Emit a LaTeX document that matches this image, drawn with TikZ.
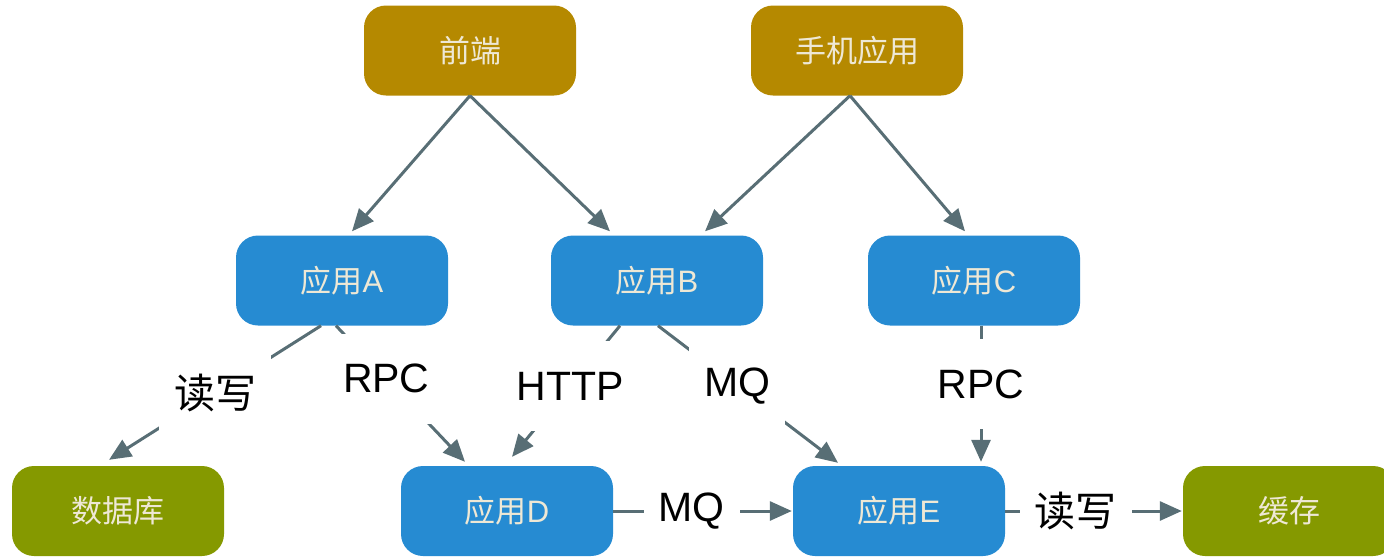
\documentclass[tikz,border=0pt]{standalone}
\usepackage{fontspec}
\setmainfont{Liberation Sans}
\newfontfamily\cjk{Noto Sans CJK SC}
\usetikzlibrary{arrows.meta}
\definecolor{gold}{HTML}{B58900}
\definecolor{sblue}{HTML}{268BD2}
\definecolor{sgreen}{HTML}{859900}
\definecolor{ntext}{HTML}{EEE8D5}
\definecolor{edgec}{HTML}{586E75}
\begin{document}
\begin{tikzpicture}[x=1pt,y=-1pt,
  box/.style={rounded corners=22pt, minimum width=212pt, minimum height=90pt, inner sep=0pt, text=ntext, font=\fontsize{31}{37}\selectfont},
  topbox/.style={box, fill=gold},
  appbox/.style={box, fill=sblue},
  storebox/.style={box, fill=sgreen},
  conn/.style={draw=edgec, line width=3pt, -{Triangle[length=22pt,width=19pt]}},
  lab/.style={fill=white, inner xsep=15pt, inner ysep=0pt, minimum height=90pt, text=black, font=\fontsize{41}{49}\selectfont}]
\useasboundingbox (0,0) rectangle (1384,558);
% nodes
\node[topbox] (fe) at (470,50.5) {\cjk 前端};
\node[topbox] (mo) at (857,50.5) {\cjk 手机应用};
\node[appbox] (a) at (342,280.5) {{\cjk 应用}A};
\node[appbox] (b) at (657,280.5) {{\cjk 应用}B};
\node[appbox] (c) at (974,280.5) {{\cjk 应用}C};
\node[storebox] (db) at (118,511) {\cjk 数据库};
\node[appbox] (d) at (507,511) {{\cjk 应用}D};
\node[appbox] (e) at (899,511) {{\cjk 应用}E};
\node[storebox] (hc) at (1289,511) {\cjk 缓存};
% upper connectors
\draw[conn] (fe.south) -- ([xshift=10pt,yshift=4pt]a.north);
\draw[conn] (fe.south) -- ([xshift=-47pt,yshift=4pt]b.north);
\draw[conn] ([xshift=-7pt]mo.south) -- ([xshift=48pt,yshift=4pt]b.north);
\draw[conn] ([xshift=-7pt]mo.south) -- ([xshift=-9pt,yshift=4pt]c.north);
% lower connectors with labels
\draw[conn] ([xshift=-21pt]a.south) -- node[lab,pos=0.5] {\cjk 读写} ([xshift=-9pt,yshift=6pt]db.north);
\draw[conn] ([xshift=-6pt]a.south) -- node[lab,pos=0.39] {RPC} ([xshift=-42pt,yshift=4pt]d.north);
\draw[conn] ([xshift=-37pt]b.south) -- node[lab,pos=0.46] {HTTP} ([xshift=5pt,yshift=9pt]d.north);
\draw[conn] ([xshift=1pt]b.south) -- node[lab,pos=0.44] {MQ} ([xshift=-61pt,yshift=3pt]e.north);
\draw[conn] ([xshift=7pt]c.south) -- node[lab,pos=0.43] {RPC} ([xshift=82pt,yshift=4pt]e.north);
\draw[conn] (d.east) -- node[lab,pos=0.44] {MQ} ([xshift=-1pt]e.west);
\draw[conn] (e.east) -- node[lab,pos=0.40] {\cjk 读写} ([xshift=-1pt]hc.west);
\end{tikzpicture}
\end{document}
